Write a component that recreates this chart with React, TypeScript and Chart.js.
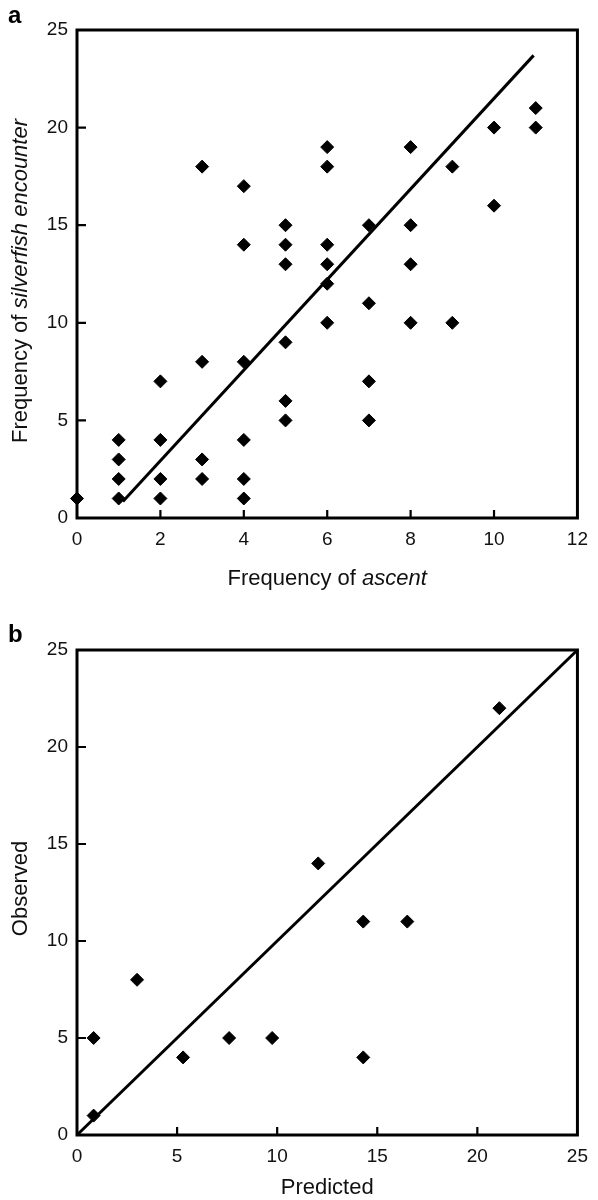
import React, { useEffect, useRef } from "react";
import { Chart, registerables } from "chart.js";

Chart.register(...registerables);

// ---------- Panel a data ----------
const ascentFreq = [
  0, 1, 1, 1, 1, 2, 2, 2, 2, 3, 3, 3, 3, 4, 4, 4, 4, 4, 4, 5, 5, 5, 5, 5, 5,
  6, 6, 6, 6, 6, 6, 7, 7, 7, 7, 8, 8, 8, 8, 9, 9, 10, 10, 11, 11,
];
const encounterFreq = [
  1, 1, 2, 3, 4, 1, 2, 4, 7, 2, 3, 8, 18, 1, 2, 4, 8, 14, 17, 5, 6, 9, 13, 14, 15,
  10, 12, 13, 14, 18, 19, 5, 7, 11, 15, 10, 13, 15, 19, 10, 18, 16, 20, 20, 21,
];
const fitLineX = [1.1, 10.95];
const fitLineY = [0.85, 23.7];
const aXTicks = [0, 2, 4, 6, 8, 10, 12];
const aYTicks = [0, 5, 10, 15, 20, 25];

// ---------- Panel b data ----------
const predicted = [0.83, 0.83, 3.0, 5.3, 7.6, 9.75, 12.05, 14.3, 14.3, 16.5, 21.1];
const observed = [1, 5, 8, 4, 5, 5, 14, 11, 4, 11, 22];
const identityX = [0, 25];
const identityY = [0, 25];
const bXTicks = [0, 5, 10, 15, 20, 25];
const bYTicks = [0, 5, 10, 15, 20, 25];

const FONT = '"Liberation Sans", Arial, Helvetica, sans-serif';

type Part = { text: string; italic?: boolean };

function drawRich(ctx: CanvasRenderingContext2D, parts: Part[], cx: number, cy: number, size: number) {
  let total = 0;
  const widths = parts.map((p) => {
    ctx.font = `${p.italic ? "italic " : ""}${size}px ${FONT}`;
    const w = ctx.measureText(p.text).width;
    total += w;
    return w;
  });
  let x = cx - total / 2;
  ctx.textAlign = "left";
  ctx.textBaseline = "alphabetic";
  parts.forEach((p, i) => {
    ctx.font = `${p.italic ? "italic " : ""}${size}px ${FONT}`;
    ctx.fillText(p.text, x, cy);
    x += widths[i];
  });
}

const framePlugin = {
  id: "frame",
  afterDraw(chart: any, _args: any, opts: any) {
    const ctx: CanvasRenderingContext2D = chart.ctx;
    const area = chart.chartArea;
    const xs = chart.scales.x;
    const ys = chart.scales.y;
    ctx.save();
    ctx.strokeStyle = "#000";
    ctx.fillStyle = "#111";
    // box
    ctx.lineWidth = 3;
    ctx.strokeRect(area.left, area.top, area.right - area.left, area.bottom - area.top);
    // inner ticks
    ctx.lineWidth = 2.2;
    ctx.beginPath();
    xs.ticks.forEach((t: any) => {
      if (t.value === xs.min || t.value === xs.max) return;
      const px = xs.getPixelForValue(t.value);
      ctx.moveTo(px, area.bottom);
      ctx.lineTo(px, area.bottom - 8);
    });
    ys.ticks.forEach((t: any) => {
      if (t.value === ys.min || t.value === ys.max) return;
      const py = ys.getPixelForValue(t.value);
      ctx.moveTo(area.left, py);
      ctx.lineTo(area.left + 9, py);
    });
    ctx.stroke();
    // axis titles
    const cxMid = (area.left + area.right) / 2;
    const cyMid = (area.top + area.bottom) / 2;
    drawRich(ctx, opts.xTitle, cxMid, opts.xTitleY, 22);
    ctx.save();
    ctx.translate(opts.yTitleX, cyMid + (opts.yTitleShift || 0));
    ctx.rotate(-Math.PI / 2);
    drawRich(ctx, opts.yTitle, 0, 0, 22);
    ctx.restore();
    // panel letter
    ctx.fillStyle = "#000";
    ctx.font = `bold 24px ${FONT}`;
    ctx.textAlign = "left";
    ctx.textBaseline = "alphabetic";
    ctx.fillText(opts.letter, 8, opts.letterY);
    ctx.restore();
  },
};

function makeConfig(
  points: { x: number; y: number }[],
  line: { x: number; y: number }[],
  xMax: number,
  xTicks: number[],
  yTicks: number[],
  xStep: number,
  padding: any,
  xAxisH: number,
  xTickPad: number,
  frame: any
): any {
  const tickFont = { family: FONT, size: 19 };
  return {
    type: "scatter",
    data: {
      datasets: [
        {
          data: points,
          pointStyle: "rectRot",
          pointRadius: 6.5,
          pointBackgroundColor: "#000",
          pointBorderColor: "#000",
          pointBorderWidth: 1,
          showLine: false,
          clip: false,
        },
        {
          data: line,
          showLine: true,
          borderColor: "#000",
          borderWidth: 3,
          pointRadius: 0,
          clip: false,
        },
      ],
    },
    options: {
      responsive: false,
      animation: false,
      layout: { padding },
      plugins: {
        legend: { display: false },
        tooltip: { enabled: false },
        frame,
      },
      scales: {
        x: {
          type: "linear",
          min: 0,
          max: xMax,
          afterFit: (s: any) => {
            s.height = xAxisH;
          },
          afterBuildTicks: (s: any) => {
            s.ticks = xTicks.map((v) => ({ value: v }));
          },
          ticks: { stepSize: xStep, color: "#111", font: tickFont, padding: xTickPad, maxRotation: 0 },
          grid: { display: false, drawTicks: false },
          border: { display: false },
        },
        y: {
          type: "linear",
          min: 0,
          max: 25,
          afterFit: (s: any) => {
            s.width = 77;
          },
          afterBuildTicks: (s: any) => {
            s.ticks = yTicks.map((v) => ({ value: v }));
          },
          ticks: { stepSize: 5, color: "#111", font: tickFont, padding: 9 },
          grid: { display: false, drawTicks: false },
          border: { display: false },
        },
      },
    },
    plugins: [framePlugin],
  };
}

function Panel(props: { config: any; top: number }) {
  const ref = useRef<HTMLCanvasElement | null>(null);
  useEffect(() => {
    if (!ref.current) return;
    const chart = new Chart(ref.current, props.config);
    return () => chart.destroy();
  }, []);
  return (
    <canvas
      ref={ref}
      width={598}
      height={600}
      style={{ position: "absolute", left: 0, top: props.top, width: 598, height: 600, display: "block" }}
    />
  );
}

export default function App() {
  const aPoints = ascentFreq.map((x, i) => ({ x, y: encounterFreq[i] }));
  const aLine = fitLineX.map((x, i) => ({ x, y: fitLineY[i] }));
  const bPoints = predicted.map((x, i) => ({ x, y: observed[i] }));
  const bLine = identityX.map((x, i) => ({ x, y: identityY[i] }));

  const configA = makeConfig(aPoints, aLine, 12, aXTicks, aYTicks, 2, { top: 30, right: 15, left: 0, bottom: 0 }, 82, 10, {
    xTitle: [{ text: "Frequency of " }, { text: "ascent", italic: true }],
    xTitleY: 585,
    yTitle: [{ text: "Frequency of " }, { text: "silverfish encounter", italic: true }],
    yTitleX: 27,
    yTitleShift: 7,
    letter: "a",
    letterY: 23,
  });
  const configB = makeConfig(bPoints, bLine, 25, bXTicks, bYTicks, 5, { top: 50, right: 11, left: 0, bottom: 0 }, 65, 10, {
    xTitle: [{ text: "Predicted" }],
    xTitleY: 594,
    yTitle: [{ text: "Observed" }],
    yTitleX: 27,
    yTitleShift: -4,
    letter: "b",
    letterY: 42,
  });

  return (
    <div style={{ position: "absolute", left: 0, top: 0, width: 598, height: 1200, background: "#fff" }}>
      <Panel config={configA} top={0} />
      <Panel config={configB} top={600} />
    </div>
  );
}
